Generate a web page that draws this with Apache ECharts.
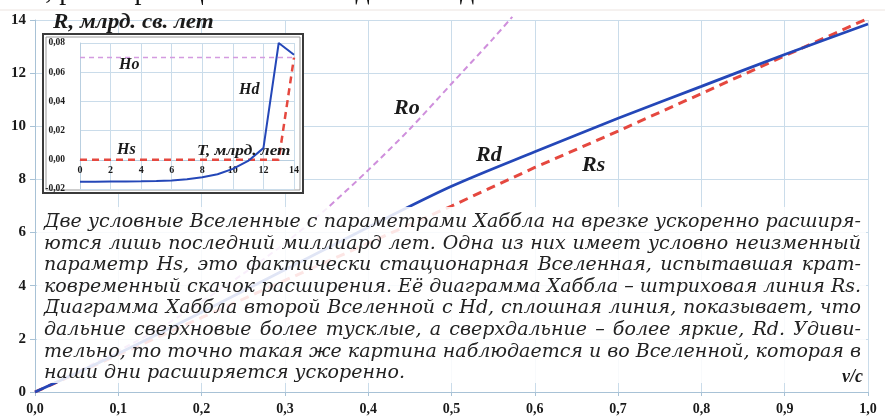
<!DOCTYPE html>
<html><head><meta charset="utf-8">
<script src="https://cdn.jsdelivr.net/npm/echarts@6/dist/echarts.min.js"></script>
<style>html,body{margin:0;padding:0;background:#fff}#c{width:885px;height:417px}</style>
</head><body><div id="c"></div>
<script>
// ---- main chart: v/c -> R (billion light years)
const vRd = [0, 0.1, 0.2, 0.3, 0.4, 0.5, 0.6, 0.7, 0.8, 0.9, 1.0];
const rd  = [0, 1.45, 3.0, 4.6, 6.2, 7.74, 9.04, 10.3, 11.5, 12.7, 13.85];
const vRs = [0, 0.1, 0.2, 0.3, 0.4, 0.5, 0.6, 0.7, 0.8, 0.9, 1.0];
const rs  = [0, 1.4, 2.8, 4.2, 5.6, 7.0, 8.45, 9.82, 11.23, 12.65, 14.06];
const vRo = [0, 0.05, 0.1, 0.15, 0.2, 0.25, 0.3, 0.35, 0.4, 0.45, 0.5, 0.55, 0.573];
const ro  = [0, 0.75, 1.55, 2.4, 3.4, 4.45, 5.6, 6.9, 8.35, 9.9, 11.6, 13.3, 14.12];
// ---- inset: T (billion years) -> H
const tHd = [0, 1, 2, 3, 4, 5, 6, 7, 8, 9, 10, 11, 12, 13, 14];
const hd  = [-0.015, -0.015, -0.0149, -0.0148, -0.0147, -0.0145, -0.0141, -0.0133, -0.012, -0.0099, -0.0062, -0.0008, 0.008, 0.08, 0.072];
const tHs = [0, 13, 14];
const hs  = [0, 0, 0.07];
const tHo = [0, 14];
const ho  = [0.07, 0.07];

const topText = 'ляются, расширяющиеся в наши дни замедленно?';
const noteLines = [
  'Две условные Вселенные с параметрами Хаббла на врезке ускоренно расширя-',
  'ются лишь последний миллиард лет. Одна из них имеет условно неизменный',
  'параметр Hs, это фактически стационарная Вселенная, испытавшая крат-',
  'ковременный скачок расширения. Её диаграмма Хаббла – штриховая линия Rs.',
  'Диаграмма Хаббла второй Вселенной с Hd, сплошная линия, показывает, что',
  'дальние сверхновые более тусклые, а сверхдальние – более яркие, Rd. Удиви-',
  'тельно, то точно такая же картина наблюдается и во Вселенной, которая в',
  'наши дни расширяется ускоренно.'
];

const pair = (xs, ys) => xs.map((x, i) => [x, ys[i]]);
const GRID = '#cadcea', AX = '#a8c2d6', TXT = '#1a1a1a';
const serifB = '"Liberation Serif", "Times New Roman", serif';

const chart = echarts.init(document.getElementById('c'), null, {renderer: 'canvas'});

// justified note text (word placement)
const noteFont = 'italic 19px "DejaVu Serif"';
const cv = document.createElement('canvas').getContext('2d');
cv.font = noteFont;
const noteX0 = 44, noteX1 = 861, noteY0 = 222, noteDy = 21.6;
const noteEls = [];
noteLines.forEach((ln, li) => {
  const words = ln.split(' ');
  const ws = words.map(w => cv.measureText(w).width);
  const sum = ws.reduce((a, b) => a + b, 0);
  const spaceW = cv.measureText(' ').width;
  const last = li === noteLines.length - 1;
  let gap = last ? spaceW : (noteX1 - noteX0 - sum) / (words.length - 1);
  let sc = 1;
  if (gap < spaceW * 0.6) { gap = spaceW * 0.6; sc = (noteX1 - noteX0) / (sum + gap * (words.length - 1)); }
  let x = noteX0;
  words.forEach((w, i) => {
    noteEls.push({type: 'text', z: 80, x: noteX0 + (x - noteX0) * sc, y: noteY0 + li * noteDy, scaleX: sc,
      style: {text: w, font: noteFont, fill: '#222', align: 'left', verticalAlign: 'middle'}});
    x += ws[i] + gap;
  });
});

const lbl = (text, x, y, size, sx) => ({type: 'text', z: 100, x, y, scaleX: sx || 1,
  style: {text, font: 'bold italic ' + size + 'px ' + serifB, fill: TXT, align: 'left', verticalAlign: 'middle'}});

const option = {
  animation: false,
  backgroundColor: '#fff',
  grid: [
    {left: 35, right: 17, top: 20, bottom: 25},
    {left: 80, top: 43, width: 214, height: 146}
  ],
  xAxis: [
    {type: 'value', gridIndex: 0, min: 0, max: 1, interval: 0.1, z: 0,
     axisLine: {lineStyle: {color: AX}}, axisTick: {show: true, length: 4, lineStyle: {color: AX}},
     splitLine: {lineStyle: {color: GRID}},
     axisLabel: {margin: 10, color: TXT, fontFamily: serifB, fontWeight: 'bold', fontSize: 14,
       formatter: v => v.toFixed(1).replace('.', ',')}},
    {type: 'value', gridIndex: 1, min: 0, max: 14, interval: 2, z: 60, offset: -29.2,
     axisLine: {onZero: false, lineStyle: {color: '#b9cfe0'}}, axisTick: {show: false},
     splitLine: {lineStyle: {color: GRID}},
     axisLabel: {margin: 6, color: TXT, fontFamily: serifB, fontWeight: 'bold', fontSize: 10}}
  ],
  yAxis: [
    {type: 'value', gridIndex: 0, min: 0, max: 14, interval: 2, z: 0,
     axisLine: {show: true, lineStyle: {color: AX}}, axisTick: {show: true, length: 5, lineStyle: {color: AX}},
     splitLine: {lineStyle: {color: GRID}},
     axisLabel: {margin: 9, color: TXT, fontFamily: serifB, fontWeight: 'bold', fontSize: 15}},
    {type: 'value', gridIndex: 1, min: -0.02, max: 0.08, interval: 0.02, z: 60,
     axisLine: {show: true, onZero: false, lineStyle: {color: '#b9cfe0'}}, axisTick: {show: false},
     splitLine: {lineStyle: {color: GRID}},
     axisLabel: {margin: 15, color: TXT, fontFamily: serifB, fontWeight: 'bold', fontSize: 9.5,
       formatter: v => v.toFixed(2).replace('.', ',')}}
  ],
  series: [
    {name: 'Ro', type: 'line', xAxisIndex: 0, yAxisIndex: 0, data: pair(vRo, ro), showSymbol: false, clip: false, z: 2, smooth: 0.3,
     lineStyle: {color: '#cf8fdc', width: 2, type: [6, 4]}},
    {name: 'Rs', type: 'line', xAxisIndex: 0, yAxisIndex: 0, data: pair(vRs, rs), showSymbol: false, clip: false, z: 2,
     lineStyle: {color: '#e5483f', width: 3, type: [9, 6]}},
    {name: 'Rd', type: 'line', xAxisIndex: 0, yAxisIndex: 0, data: pair(vRd, rd), showSymbol: false, clip: false, z: 3, smooth: 0.3,
     lineStyle: {color: '#2447b8', width: 2.8}},
    {name: 'Ho', type: 'line', xAxisIndex: 1, yAxisIndex: 1, data: pair(tHo, ho), showSymbol: false, z: 61,
     lineStyle: {color: '#d49be0', width: 1.5, type: [5, 4]}},
    {name: 'Hs', type: 'line', xAxisIndex: 1, yAxisIndex: 1, data: pair(tHs, hs), showSymbol: false, z: 61,
     lineStyle: {color: '#e5483f', width: 2.5, type: [7, 5]}},
    {name: 'Hd', type: 'line', xAxisIndex: 1, yAxisIndex: 1, data: pair(tHd, hd), showSymbol: false, z: 62,
     lineStyle: {color: '#2447b8', width: 2}}
  ],
  graphic: [
    {type: 'text', z: 100, x: 557, y: -8, style: {text: topText, font: '28px "Liberation Serif"', fill: '#111', align: 'right', verticalAlign: 'middle'}},
    {type: 'line', z: 1, shape: {x1: 0, y1: 10, x2: 885, y2: 10}, style: {stroke: '#ece4e0', lineWidth: 1}},
    {type: 'rect', z: 50, shape: {x: 37, y: 207, width: 829, height: 176}, style: {fill: 'rgba(255,255,255,0.86)'}},
    {type: 'rect', z: 50, shape: {x: 43, y: 34, width: 260, height: 159}, style: {fill: '#fff', stroke: '#3a3a3a', lineWidth: 2}},
    {type: 'rect', z: 51, shape: {x: 46, y: 37, width: 254, height: 153}, style: {fill: 'none', stroke: '#9a9a9a', lineWidth: 1}},
    lbl('R, млрд. св. лет', 53, 23, 21, 1.1),
    lbl('Ro', 394, 108, 22),
    lbl('Rd', 476, 155, 22),
    lbl('Rs', 582, 165, 22),
    lbl('v/c', 842, 377, 18),
    lbl('Ho', 119, 65, 16),
    lbl('Hd', 239, 90, 16),
    lbl('Hs', 117, 150, 16),
    lbl('T, млрд. лет', 197, 151, 15, 1.15)
  ].concat(noteEls)
};
chart.setOption(option);
</script>
</body></html>
